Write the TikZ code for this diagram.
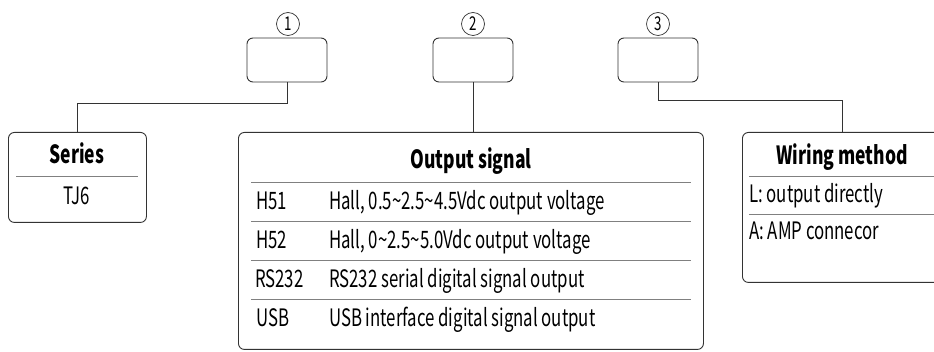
\documentclass[tikz,border=0pt]{standalone}
\usepackage{fontspec}
\setmainfont{Noto Sans CJK SC}[FakeStretch=0.7]
\usetikzlibrary{positioning}

\begin{document}
\begin{tikzpicture}[x=1pt,y=-1pt,
  slot/.style={draw=black!80,line width=0.9pt,rounded corners=6pt,minimum width=80pt,minimum height=44pt},
  mark num/.style={circle,draw=black!80,line width=0.7pt,minimum size=23pt,inner sep=0pt,font=\fontsize{19}{19}\selectfont},
  panel/.style={draw=black!80,line width=0.9pt,rounded corners=6pt,anchor=north west,inner sep=0pt},
  head/.style={font=\fontsize{25}{27}\selectfont\bfseries,inner sep=0pt,anchor=base},
  entry/.style={font=\fontsize{24}{26}\selectfont,anchor=base west,inner sep=0pt},
  sep/.style={draw=black!50,line width=1pt}]
\useasboundingbox (0,0) rectangle (934,352);
\clip (0,0) rectangle (934,352);

% code slots
\node[slot] (s1) at (287,60) {};
\node[slot] (s2) at (473,60) {};
\node[slot] (s3) at (658,60) {};
\node[mark num] (n1) at (288,24) {1};
\node[mark num] (n2) at (473,24) {2};
\node[mark num] (n3) at (658,24) {3};

% panels
\node[panel,minimum width=138pt,minimum height=90pt] (series) at (8,132) {};
\node[panel,minimum width=465pt,minimum height=217pt] (out) at (238,132) {};
\node[panel,minimum width=200pt,minimum height=150pt] (wire) at (742,132) {};

% series
\node[head] (seriesT) at (77,164) {Series};
\draw[sep] (16,177) -- (138,177);
\node[entry,anchor=base] (tj) at (77,205) {TJ6};

% output signal
\node[head] (outT) at (471,169) {Output signal};
\foreach \y in {183,222,261,300} \draw[sep] (251,\y) -- (691,\y);
\node[entry] (h51) at (256,210) {H51};
\node[entry] (h51d) at (329,210) {Hall, 0.5\string~2.5\string~4.5Vdc output voltage};
\node[entry] (h52) at (256,249) {H52};
\node[entry] (h52d) at (329,249) {Hall, 0\string~2.5\string~5.0Vdc output voltage};
\node[entry] (rs) at (255,288) {RS232};
\node[entry] (rsd) at (329,288) {RS232 serial digital signal output};
\node[entry] (usb) at (256,327) {USB};
\node[entry] (usbd) at (329,327) {USB interface digital signal output};

% wiring method
\node[head] (wireT) at (842,165) {Wiring method};
\draw[sep] (749,177) -- (940,177);
\node[entry] (wl) at (749,203) {L: output directly};
\draw[sep] (749,215) -- (940,215);
\node[entry] (wa) at (749,240) {A: AMP connecor};

% connectors
\draw[black!80,line width=0.9pt] (s1.south) -- ++(0,21) -| (series.north);
\draw[black!80,line width=0.9pt] (s2.south) -- (s2.south |- out.north);
\draw[black!80,line width=0.9pt] (s3.south) -- ++(0,18) -| (wire.north);
\end{tikzpicture}
\end{document}
